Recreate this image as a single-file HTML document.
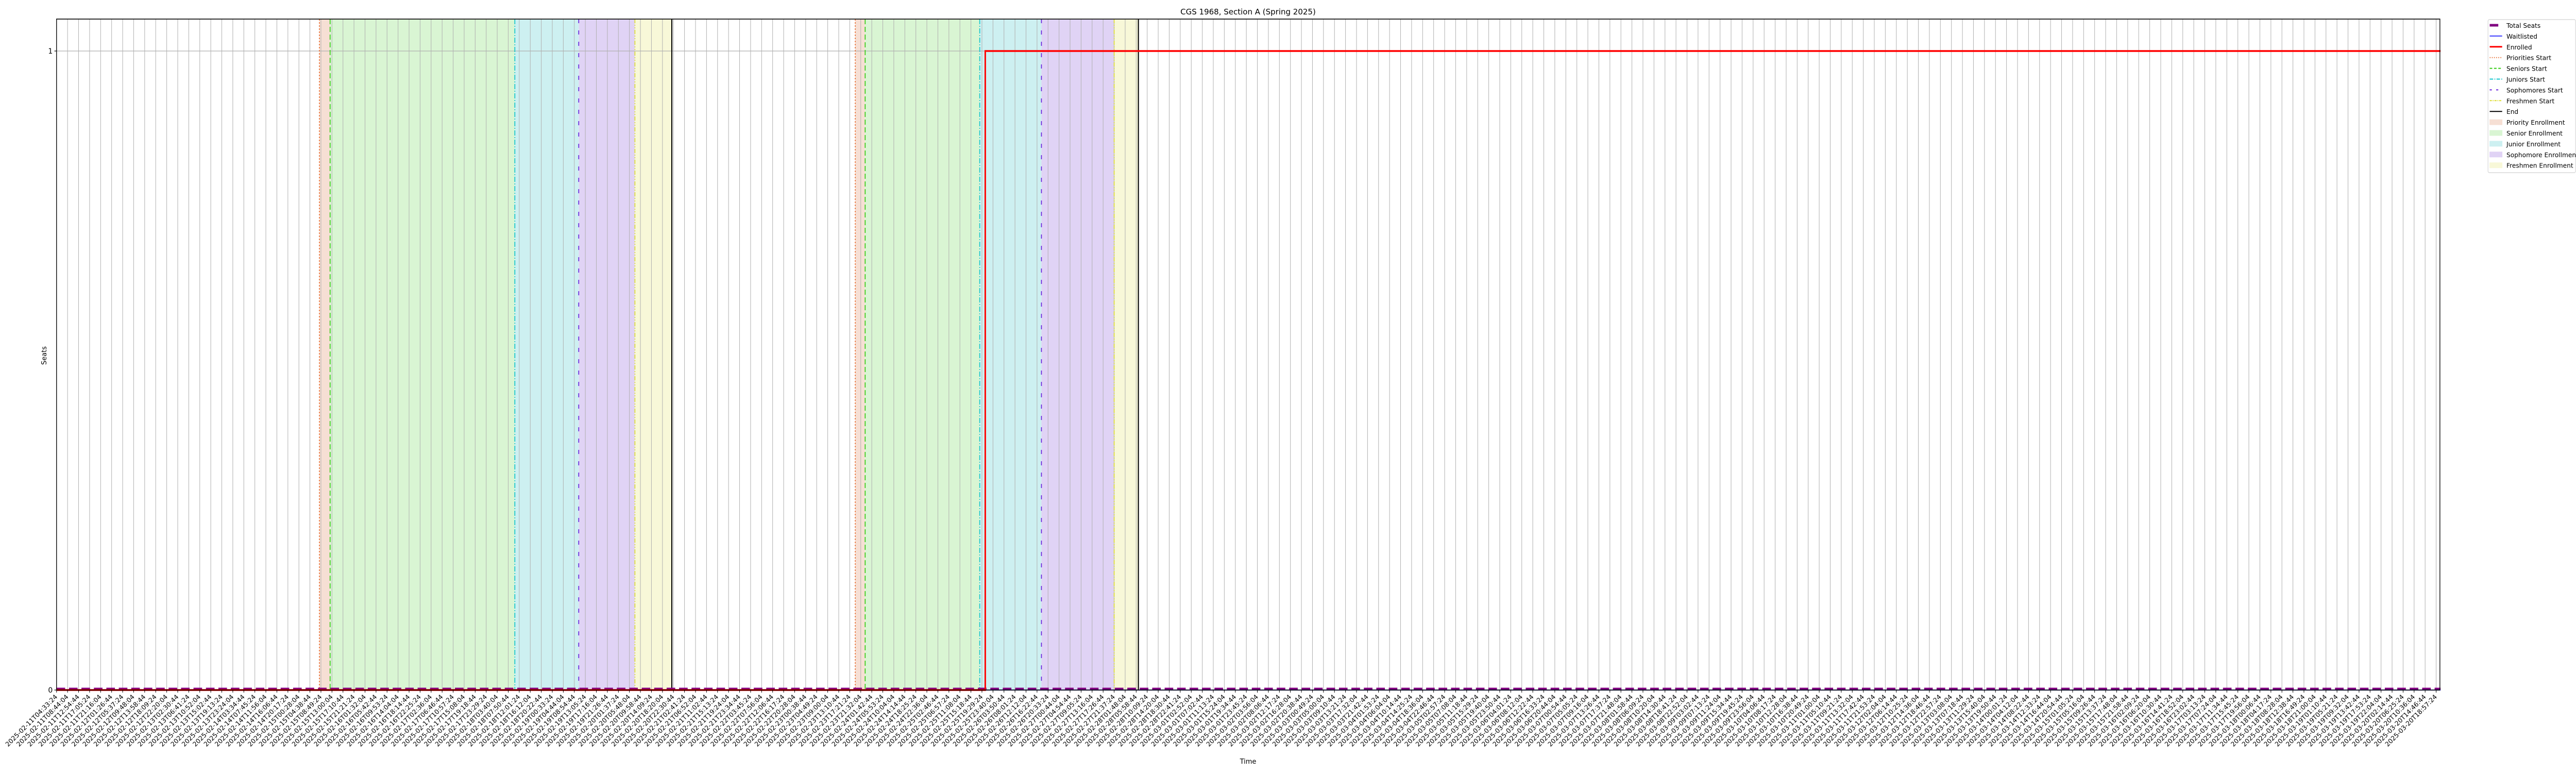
<!DOCTYPE html>
<html><head><meta charset="utf-8"><style>
html,body{margin:0;padding:0;background:#fff;width:100vw;height:100vh;overflow:hidden}
#chart{display:block;width:100vw;height:100vh;overflow:hidden}
svg text{font-family:"DejaVu Sans","Liberation Sans",sans-serif;fill:#000}
</style></head><body>
<svg id="chart" xmlns="http://www.w3.org/2000/svg" viewBox="0 0 6000 1500" preserveAspectRatio="none">
<g id="plot"></g>
<g id="legend"></g>
<g id="labels"></g>
</svg>
<script>
// ---- data (x in tick-index units, y in seats) ----
const tickStart = "2025-02-11T04:33:24";
const tickCount = 217;
const tickStepSeconds = 15040;
const yTicks = [0, 1];
const phaseNames = ["priority", "senior", "junior", "sophomore", "freshmen"];
const period1Starts = [23.86, 24.83, 41.6, 47.4, 52.5];
const period1End = 55.85;
const period2Starts = [72.5, 73.4, 83.8, 89.4, 96.0];
const period2End = 98.2;
const enrolledX = [0, 84.3, 84.3, 216.4];
const enrolledY = [0, 0, 1, 1];
const totalSeatsX = [0, 216.4];
const totalSeatsY = [0, 0];
const waitlistX = [0, 216.4];
const waitlistY = [0, 0];

// ---- layout ----
const L = 131.7, R = 5683, T = 37, B = 1339;
const step = 25.66;
const yMax = 1.05;
const xs = i => L + i * step;
const ys = v => B - (v / yMax) * (B - T);
const NS = "http://www.w3.org/2000/svg";
const plot = document.getElementById('plot');
const labelsG = document.getElementById('labels');
const vw = window.innerWidth || 6000, vh = window.innerHeight || 1500;
const K = (vh / 1500) / (vw / 6000);
function mk(tag, attrs, parent) {
  const e = document.createElementNS(NS, tag);
  for (const k in attrs) e.setAttribute(k, attrs[k]);
  (parent || plot).appendChild(e);
  return e;
}
function txt(str, x, y, size, anchor, rot, parent) {
  const t = mk('text', {x: 0, y: 0, 'font-size': size, 'text-anchor': anchor,
    transform: 'translate(' + x + ',' + y + ') scale(' + K + ',1)' + (rot ? ' rotate(' + rot + ')' : '')}, parent || labelsG);
  t.textContent = str;
  return t;
}
const fills = ["#f6dfd4", "#d9f5d3", "#cdf0f1", "#e0d3f5", "#f8f8d8"];
const lineCol = ["#e8743b", "#33cc11", "#11c5cc", "#6a22dd", "#dddd33"];
const dashes = ["3,3", "10,5", "10,3,2,3", "8,14", "8,3,2,3,2,3"];

[[period1Starts, period1End], [period2Starts, period2End]].forEach((p, pi) => {
  const st = p[0], end = p[1];
  for (let k = 0; k < 5; k++) {
    const a = st[k], b = k < 4 ? st[k + 1] : end;
    const r = mk('rect', {x: xs(a), y: T, width: xs(b) - xs(a), height: B - T, fill: fills[k]});
    
    
  }
});

for (let i = 0; i < tickCount; i++) {
  const g = mk('line', {x1: xs(i), x2: xs(i), y1: T, y2: B, stroke: '#b0b0b0', 'stroke-width': 1.2});
  
  
}
yTicks.forEach(v => {
  const g = mk('line', {x1: L, x2: R, y1: ys(v), y2: ys(v), stroke: '#b0b0b0', 'stroke-width': 1.2});
  
  
});

[[period1Starts, period1End], [period2Starts, period2End]].forEach((p, pi) => {
  for (let k = 0; k < 5; k++) {
    const l = mk('line', {x1: xs(p[0][k]), x2: xs(p[0][k]), y1: T, y2: B, stroke: lineCol[k], 'stroke-width': 2, 'stroke-dasharray': dashes[k]});
    
    
  }
  const e = mk('line', {x1: xs(p[1]), x2: xs(p[1]), y1: T, y2: B, stroke: '#000', 'stroke-width': 2.5});
  
  
});

function pts(X, Y) { return X.map((x, i) => xs(x) + ',' + ys(Y[i])).join(' '); }
const ts = mk('polyline', {points: pts(totalSeatsX, totalSeatsY), fill: 'none', stroke: '#800080', 'stroke-width': 5, 'stroke-dasharray': '20,9', transform: 'translate(0,-2)'});


const wl = mk('polyline', {points: pts(waitlistX, waitlistY), fill: 'none', stroke: '#0000ff', 'stroke-width': 1.5});


const en = mk('polyline', {points: pts(enrolledX, enrolledY), fill: 'none', stroke: '#ff0000', 'stroke-width': 3.5});



const fr = mk('rect', {x: L, y: T, width: R - L, height: B - T, fill: 'none', stroke: '#000', 'stroke-width': 1.6});



const title = txt('CGS 1968, Section A (Spring 2025)', 2907, 28, 15, 'middle', 0);


const ylab = txt('Seats', 108, 690, 13, 'middle', -90);


const xlab = txt('Time', 2907, 1482, 13, 'middle', 0);



yTicks.forEach(v => {
  mk('line', {x1: L - 5, x2: L, y1: ys(v), y2: ys(v), stroke: '#000', 'stroke-width': 1.2});
  const t = txt(String(v), L - 9, ys(v) + 5, 14, 'end', 0);
  
  
});

const t0 = Date.parse(tickStart + "Z");
const pad = n => String(n).padStart(2, '0');
for (let i = 0; i < tickCount; i++) {
  const d = new Date(t0 + i * tickStepSeconds * 1000);
  const lab = d.getUTCFullYear() + '-' + pad(d.getUTCMonth() + 1) + '-' + pad(d.getUTCDate()) + 'T' + pad(d.getUTCHours()) + ':' + pad(d.getUTCMinutes()) + ':' + pad(d.getUTCSeconds());
  mk('line', {x1: xs(i), x2: xs(i), y1: B, y2: B + 5, stroke: '#000', 'stroke-width': 1.2});
  const t = txt(lab, xs(i) + 3, B + 14, 12.5, 'end', -45);
  
  
}

const lg = document.getElementById('legend');
mk('rect', {x: 5795, y: 38, width: 204, height: 297, fill: '#fff', stroke: '#d0d0d0', 'stroke-width': 1.2, rx: 3}, lg);
const entries = [
  ['Total Seats', 'line', '#800080', 5, null],
  ['Waitlisted', 'line', '#0000ff', 1.5, null],
  ['Enrolled', 'line', '#ff0000', 3, null],
  ['Priorities Start', 'line', lineCol[0], 2, '2,3'],
  ['Seniors Start', 'line', lineCol[1], 2, '6,4'],
  ['Juniors Start', 'line', lineCol[2], 2, '8,3,2,3'],
  ['Sophomores Start', 'line', lineCol[3], 2, '5,10'],
  ['Freshmen Start', 'line', lineCol[4], 2, '5,2,2,2'],
  ['End', 'line', '#000', 2, null],
  ['Priority Enrollment', 'patch', fills[0]],
  ['Senior Enrollment', 'patch', fills[1]],
  ['Junior Enrollment', 'patch', fills[2]],
  ['Sophomore Enrollment', 'patch', fills[3]],
  ['Freshmen Enrollment', 'patch', fills[4]]
];
entries.forEach((e, i) => {
  const y = 49 + i * 20.9;
  if (e[1] === 'line') {
    const a = {x1: 5799, x2: 5828, y1: y, y2: y, stroke: e[2], 'stroke-width': e[3]};
    if (e[4]) a['stroke-dasharray'] = e[4];
    if (i === 0) a.x2 = 5819;
    mk('line', a, lg);
  } else {
    mk('rect', {x: 5799, y: y - 5, width: 29, height: 10, fill: e[2], stroke: e[2]}, lg);
  }
  const t = txt(e[0], 5838, y + 5, 12.2, 'start', 0, lg);
  
  
});
</script>
</body></html>
